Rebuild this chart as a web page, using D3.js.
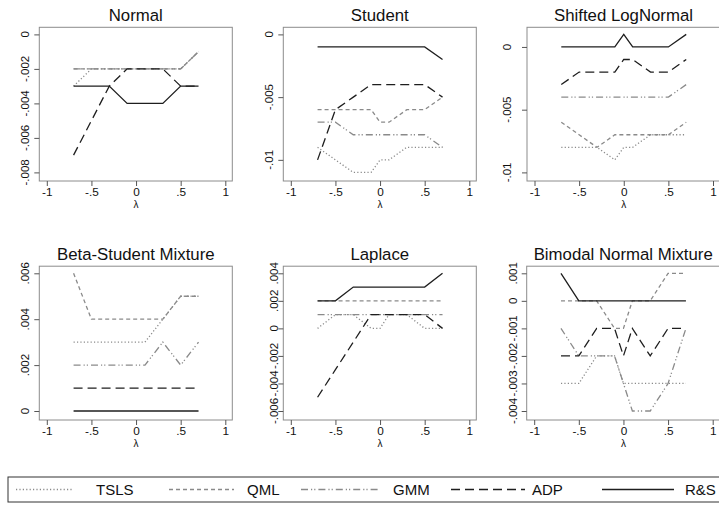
<!DOCTYPE html>
<html><head><meta charset="utf-8">
<script src="https://cdn.jsdelivr.net/npm/d3@7"></script>
<style>html,body{margin:0;padding:0;background:#fff}svg{display:block}</style>
</head><body>
<script>
// ---- data ----
const lambda = [-0.7, -0.5, -0.3, -0.1, 0, 0.1, 0.3, 0.5, 0.7];
const seriesNames = ["TSLS", "QML", "GMM", "ADP", "R&S"];
const panelTitles = ["Normal", "Student", "Shifted LogNormal", "Beta-Student Mixture", "Laplace", "Bimodal Normal Mixture"];
const xTicks = [-1, -0.5, 0, 0.5, 1];

const yTicksNormal = [-0.008, -0.006, -0.004, -0.002, 0];
const yTicksStudent = [-0.01, -0.005, 0];
const yTicksLogNormal = [-0.01, -0.005, 0];
const yTicksBeta = [0, 0.002, 0.004, 0.006];
const yTicksLaplace = [-0.006, -0.004, -0.002, 0, 0.002, 0.004];
const yTicksBimodal = [-0.004, -0.003, -0.002, -0.001, 0, 0.001];

const yDomainNormal = [-0.008, 0];
const yDomainStudent = [-0.011, 0];
const yDomainLogNormal = [-0.01, 0.001];
const yDomainBeta = [0, 0.006];
const yDomainLaplace = [-0.006, 0.004];
const yDomainBimodal = [-0.004, 0.001];

// order: TSLS, QML, GMM, ADP, R&S
const normal = [
  [-0.003, -0.002, -0.002, -0.002, -0.002, -0.002, -0.002, -0.002, -0.001],
  [-0.002, -0.002, -0.002, -0.002, -0.002, -0.002, -0.002, -0.002, -0.001],
  [-0.002, -0.002, -0.002, -0.002, -0.002, -0.002, -0.002, -0.002, -0.001],
  [-0.007, -0.005, -0.003, -0.002, -0.002, -0.002, -0.002, -0.003, -0.003],
  [-0.003, -0.003, -0.003, -0.004, -0.004, -0.004, -0.004, -0.003, -0.003]
];
const student = [
  [-0.009, -0.010, -0.011, -0.011, -0.010, -0.010, -0.009, -0.009, -0.009],
  [-0.006, -0.006, -0.006, -0.006, -0.007, -0.007, -0.006, -0.006, -0.005],
  [-0.007, -0.007, -0.008, -0.008, -0.008, -0.008, -0.008, -0.008, -0.009],
  [-0.010, -0.006, -0.005, -0.004, -0.004, -0.004, -0.004, -0.004, -0.005],
  [-0.001, -0.001, -0.001, -0.001, -0.001, -0.001, -0.001, -0.001, -0.002]
];
const logNormal = [
  [-0.008, -0.008, -0.008, -0.009, -0.008, -0.008, -0.007, -0.007, -0.007],
  [-0.006, -0.007, -0.008, -0.007, -0.007, -0.007, -0.007, -0.007, -0.006],
  [-0.004, -0.004, -0.004, -0.004, -0.004, -0.004, -0.004, -0.004, -0.003],
  [-0.003, -0.002, -0.002, -0.002, -0.001, -0.001, -0.002, -0.002, -0.001],
  [0, 0, 0, 0, 0.001, 0, 0, 0, 0.001]
];
const betaStudent = [
  [0.003, 0.003, 0.003, 0.003, 0.003, 0.003, 0.004, 0.005, 0.005],
  [0.006, 0.004, 0.004, 0.004, 0.004, 0.004, 0.004, 0.005, 0.005],
  [0.002, 0.002, 0.002, 0.002, 0.002, 0.002, 0.003, 0.002, 0.003],
  [0.001, 0.001, 0.001, 0.001, 0.001, 0.001, 0.001, 0.001, 0.001],
  [0, 0, 0, 0, 0, 0, 0, 0, 0]
];
const laplace = [
  [0, 0.001, 0.001, 0, 0, 0.001, 0.001, 0, 0],
  [0.002, 0.002, 0.002, 0.002, 0.002, 0.002, 0.002, 0.002, 0.002],
  [0.001, 0.001, 0.001, 0.001, 0.001, 0.001, 0.001, 0.001, 0.001],
  [-0.005, -0.003, -0.001, 0.001, 0.001, 0.001, 0.001, 0.001, 0],
  [0.002, 0.002, 0.003, 0.003, 0.003, 0.003, 0.003, 0.003, 0.004]
];
const bimodal = [
  [-0.003, -0.003, -0.002, -0.002, -0.003, -0.003, -0.003, -0.003, -0.003],
  [0, 0, 0, -0.001, -0.001, 0, 0, 0.001, 0.001],
  [-0.001, -0.002, -0.002, -0.002, -0.003, -0.004, -0.004, -0.003, -0.001],
  [-0.002, -0.002, -0.001, -0.001, -0.002, -0.001, -0.002, -0.001, -0.001],
  [0.001, 0, 0, 0, 0, 0, 0, 0, 0]
];

const panelData = [normal, student, logNormal, betaStudent, laplace, bimodal];
const panelTicks = [yTicksNormal, yTicksStudent, yTicksLogNormal, yTicksBeta, yTicksLaplace, yTicksBimodal];
const panelDomains = [yDomainNormal, yDomainStudent, yDomainLogNormal, yDomainBeta, yDomainLaplace, yDomainBimodal];

// ---- style / layout ----
const W = 719, H = 512;
const frameLeft = [39.3, 283.3, 527, 39.3, 283.3, 526.7];
const yLabelX = [25, 268.3, 506.7, 25, 273.3, 512.4];
const frameW = 193;
const rowTop = [27.3, 266.2];
const rowBottom = [181, 420];
const rowYRange = [[172.4, 34.4], [411, 273.3]];
const styles = {
  "TSLS": {stroke: "#8a8a8a", dash: "1.2,2.2"},
  "QML": {stroke: "#8a8a8a", dash: "4,3"},
  "GMM": {stroke: "#8a8a8a", dash: "7,3,1.2,2,1.2,3"},
  "ADP": {stroke: "#1e1e1e", dash: "9,5"},
  "R&S": {stroke: "#1e1e1e", dash: null}
};
const FONT = "'Liberation Sans', Arial, Helvetica, sans-serif";
const fmt = v => {
  if (v === 0) return "0";
  let s = String(+v.toFixed(4));
  return s.replace(/^(-?)0\./, "$1.");
};

const svg = d3.select("body").append("svg").attr("width", W).attr("height", H)
  .style("font-family", FONT);

panelData.forEach((series, i) => {
  const row = Math.floor(i / 3);
  const fl = frameLeft[i];
  const top = rowTop[row], bot = rowBottom[row];
  const x = d3.scaleLinear().domain([-1, 1]).range([fl + 7.5, fl + 186]);
  const y = d3.scaleLinear().domain(panelDomains[i]).range(rowYRange[row]);
  const g = svg.append("g");

  // frame
  g.append("rect").attr("x", fl).attr("y", top).attr("width", frameW).attr("height", bot - top)
    .attr("fill", "none").attr("stroke", "#8c8c8c").attr("stroke-width", 1);

  // title
  g.append("text").attr("x", fl + frameW / 2).attr("y", row === 0 ? 20.7 : 260)
    .attr("text-anchor", "middle").attr("font-size", 16.8).attr("fill", "#111").text(panelTitles[i]);

  // x axis
  const xa = g.append("g").attr("transform", `translate(0,${bot})`)
    .call(d3.axisBottom(x).tickValues(xTicks).tickSize(5).tickPadding(3).tickFormat(fmt));
  xa.select(".domain").remove();
  xa.selectAll(".tick line").attr("stroke", "#555");
  xa.selectAll(".tick text").attr("font-size", 11.8).attr("font-family", FONT).attr("fill", "#111")
    .attr("dy", null).attr("y", 15.2);
  g.append("text").attr("x", x(0)).attr("y", bot + 27.3).attr("text-anchor", "middle")
    .attr("font-size", 10).attr("fill", "#111").text("λ");

  // y axis
  const ya = g.append("g").attr("transform", `translate(${fl},0)`)
    .call(d3.axisLeft(y).tickValues(panelTicks[i]).tickSize(5).tickFormat(""));
  ya.select(".domain").remove();
  ya.selectAll(".tick line").attr("stroke", "#555");
  panelTicks[i].forEach(t => {
    g.append("text").attr("transform", `translate(${yLabelX[i] + 4.2},${y(t)}) rotate(-90)`)
      .attr("text-anchor", "middle").attr("font-size", 11.5).attr("fill", "#111").text(fmt(t));
  });

  // lines
  const line = d3.line().x((d, k) => x(lambda[k])).y(d => y(d));
  series.forEach((vals, s) => {
    const st = styles[seriesNames[s]];
    g.append("path").datum(vals).attr("d", line).attr("fill", "none")
      .attr("stroke", st.stroke).attr("stroke-width", 1.3)
      .attr("stroke-dasharray", st.dash);
  });
});

// legend
const lg = svg.append("g");
lg.append("rect").attr("x", 8).attr("y", 477).attr("width", 730).attr("height", 25)
  .attr("fill", "none").attr("stroke", "#333").attr("stroke-width", 1);
const legendLineX = [[16, 72], [169, 234], [301, 380], [451, 525], [602, 674]];
const legendTextX = [96, 247, 393, 532, 685];
seriesNames.forEach((n, i) => {
  const st = styles[n];
  lg.append("line").attr("x1", legendLineX[i][0]).attr("x2", legendLineX[i][1])
    .attr("y1", 489.5).attr("y2", 489.5).attr("stroke", st.stroke).attr("stroke-width", 1.3)
    .attr("stroke-dasharray", st.dash);
  lg.append("text").attr("x", legendTextX[i]).attr("y", 495).attr("font-size", 15)
    .attr("fill", "#111").text(n);
});
</script>
</body></html>
